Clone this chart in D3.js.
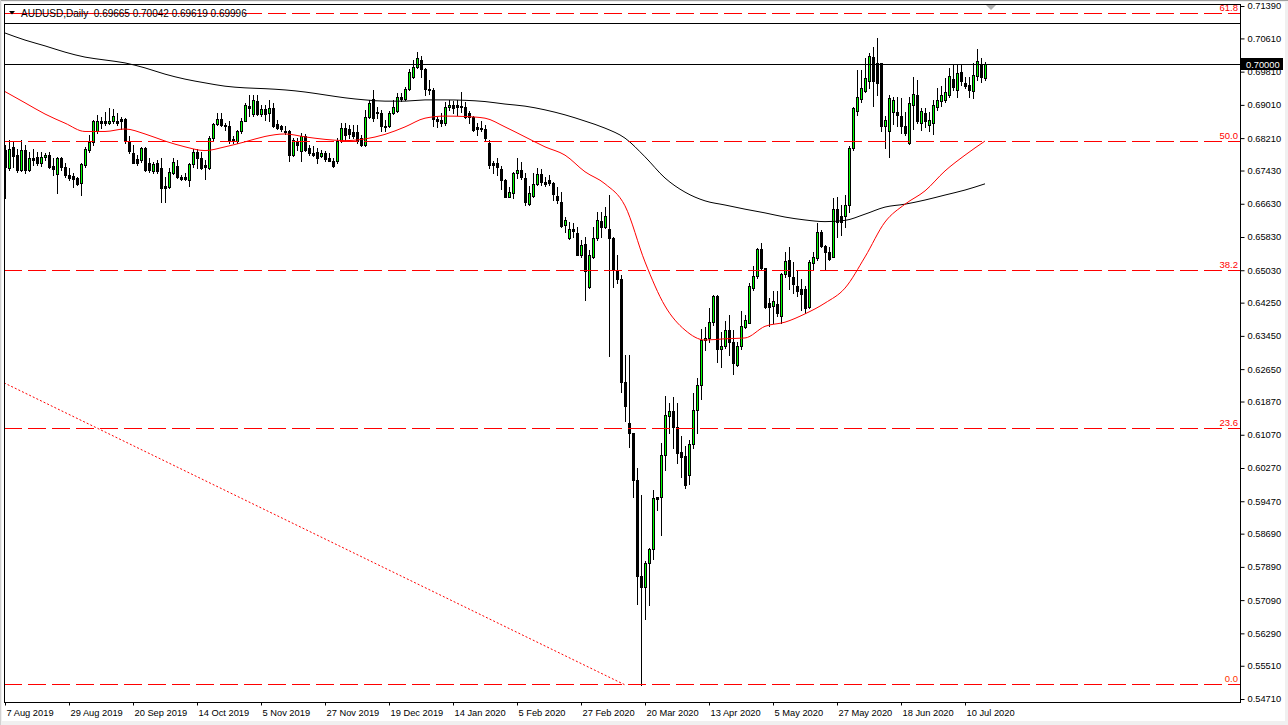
<!DOCTYPE html>
<html><head><meta charset="utf-8">
<script src="https://cdn.jsdelivr.net/npm/d3@7"></script>
<style>body{margin:0;background:#fff;} svg{display:block;}</style>
</head><body>
<svg id="c" width="1288" height="725"></svg>
<script>
const symbolTitle = "AUDUSD,Daily";
const lastQuote = ["0.69665", "0.70042", "0.69619", "0.69996"];

const openP = [
.6792,.6748,.6800,.6780,.6744,.6792,.6744,.6772,.6775,.6760,
.6775,.6780,.6754,.6734,.6774,.6751,.6732,.6730,.6724,.6712,
.6756,.6792,.6812,.6837,.6861,.6861,.6857,.6861,.6863,.6866,
.6866,.6813,.6786,.6770,.6768,.6797,.6760,.6743,.6760,.6748,
.6706,.6703,.6738,.6754,.6728,.6728,.6720,.6758,.6788,.6772,
.6756,.6748,.6821,.6855,.6866,.6853,.6849,.6818,.6813,.6837,
.6863,.6898,.6879,.6910,.6879,.6891,.6881,.6893,.6855,.6850,
.6839,.6837,.6781,.6813,.6789,.6826,.6798,.6786,.6787,.6777,
.6786,.6773,.6767,.6765,.6815,.6845,.6843,.6835,.6835,.6821,
.6805,.6873,.6914,.6885,.6882,.6850,.6850,.6882,.6887,.6919,
.6915,.6939,.6967,.6991,.7009,.6987,.6939,.6937,.6866,.6865,
.6857,.6895,.6900,.6901,.6898,.6895,.6882,.6871,.6847,.6845,
.6842,.6810,.6762,.6762,.6746,.6720,.6680,.6688,.6736,.6744,
.6724,.6663,.6682,.6711,.6734,.6716,.6720,.6714,.6682,.6668,
.6611,.6580,.6602,.6592,.6540,.6566,.6462,.6534,.6580,.6622,
.6606,.6602,.6580,.6504,.6481,.6233,.6136,.6111,.5998,.5767,
.5740,.5798,.5832,.5957,.5957,.6059,.6153,.6164,.6125,.6065,
.6056,.6009,.6084,.6167,.6227,.6335,.6339,.6378,.6441,.6313,
.6321,.6359,.6331,.6275,.6321,.6367,.6377,.6460,.6488,.6554,
.6508,.6424,.6416,.6422,.6393,.6493,.6528,.6486,.6465,.6459,
.6457,.6414,.6520,.6532,.6596,.6562,.6546,.6536,.6650,.6634,
.6634,.6660,.6797,.6887,.6914,.6935,.6959,.7017,.7001,.7001,
.6849,.6837,.6885,.6885,.6874,.6849,.6809,.6901,.6925,.6858,
.6882,.6853,.6857,.6897,.6911,.6913,.6925,.6963,.6938,.6979,
.6954,.6949,.6935,.6971,.6997,.69665];

const highP = [
.6804,.6816,.6812,.6796,.6816,.6804,.6788,.6796,.6788,.6788,
.6784,.6788,.6772,.6776,.6776,.6760,.6748,.6736,.6728,.6760,
.6800,.6829,.6865,.6877,.6873,.6885,.6893,.6890,.6881,.6873,
.6869,.6825,.6805,.6781,.6800,.6800,.6772,.6764,.6768,.6772,
.6728,.6748,.6772,.6768,.6732,.6736,.6760,.6796,.6796,.6788,
.6768,.6825,.6858,.6881,.6881,.6858,.6861,.6826,.6841,.6869,
.6905,.6925,.6925,.6925,.6901,.6901,.6913,.6905,.6865,.6853,
.6849,.6841,.6821,.6821,.6833,.6831,.6805,.6802,.6797,.6793,
.6789,.6785,.6773,.6821,.6858,.6857,.6853,.6853,.6853,.6829,
.6889,.6913,.6937,.6897,.6889,.6865,.6887,.6913,.6929,.6929,
.6945,.6987,.7008,.7029,.7019,.6989,.6961,.6941,.6871,.6881,
.6909,.6913,.6911,.6913,.6933,.6909,.6887,.6874,.6858,.6861,
.6853,.6817,.6765,.6772,.6754,.6722,.6704,.6740,.6772,.6764,
.6736,.6706,.6736,.6748,.6746,.6728,.6732,.6716,.6704,.6692,
.6632,.6620,.6616,.6608,.6576,.6584,.6552,.6608,.6644,.6644,
.6656,.6684,.6582,.6540,.6492,.6299,.6299,.6111,.6026,.5962,
.5802,.5834,.5974,.5958,.6087,.6200,.6183,.6199,.6183,.6103,
.6079,.6095,.6207,.6243,.6361,.6367,.6411,.6444,.6443,.6355,
.6380,.6396,.6359,.6331,.6404,.6396,.6472,.6512,.6556,.6568,
.6508,.6436,.6452,.6452,.6496,.6546,.6560,.6524,.6504,.6483,
.6464,.6528,.6548,.6616,.6600,.6564,.6560,.6676,.6680,.6660,
.6684,.6801,.6897,.6985,.6985,.7013,.7025,.7041,.7061,.7003,
.6874,.6925,.6921,.6921,.6917,.6885,.6921,.6969,.6961,.6893,
.6893,.6885,.6913,.6941,.6947,.6965,.6989,.6999,.6999,.6999,
.6967,.6969,.7001,.7035,.7013,.70042];

const lowP = [
.6676,.6744,.6752,.6740,.6743,.6736,.6743,.6756,.6756,.6754,
.6768,.6748,.6732,.6688,.6744,.6728,.6720,.6704,.6708,.6684,
.6752,.6788,.6804,.6833,.6845,.6853,.6855,.6857,.6853,.6842,
.6809,.6785,.6760,.6756,.6764,.6743,.6740,.6738,.6738,.6668,
.6668,.6700,.6735,.6724,.6720,.6720,.6706,.6752,.6750,.6746,
.6722,.6746,.6816,.6853,.6849,.6841,.6809,.6809,.6809,.6833,
.6861,.6874,.6874,.6877,.6874,.6865,.6861,.6847,.6842,.6837,
.6831,.6767,.6777,.6793,.6767,.6789,.6781,.6777,.6762,.6775,
.6767,.6765,.6752,.6762,.6812,.6815,.6821,.6821,.6809,.6802,
.6802,.6869,.6863,.6869,.6837,.6839,.6847,.6879,.6885,.6911,
.6913,.6937,.6965,.6989,.6967,.6925,.6927,.6849,.6847,.6850,
.6853,.6889,.6881,.6877,.6885,.6869,.6858,.6837,.6829,.6837,
.6815,.6748,.6736,.6732,.6698,.6679,.6679,.6676,.6724,.6722,
.6660,.6660,.6679,.6708,.6708,.6706,.6708,.6671,.6664,.6608,
.6596,.6578,.6584,.6540,.6536,.6432,.6460,.6532,.6576,.6584,
.6604,.6297,.6462,.6472,.6209,.6139,.6077,.5958,.5700,.5505,
.5663,.5698,.5807,.5926,.5866,.6021,.6111,.6075,.6038,.6005,
.5978,.5989,.6075,.6112,.6192,.6310,.6331,.6371,.6281,.6269,
.6315,.6299,.6254,.6273,.6313,.6363,.6375,.6456,.6484,.6504,
.6412,.6369,.6375,.6393,.6377,.6486,.6457,.6448,.6440,.6408,
.6399,.6411,.6505,.6528,.6560,.6505,.6528,.6534,.6584,.6588,
.6608,.6644,.6793,.6877,.6909,.6933,.6941,.6898,.6925,.6837,
.6797,.6775,.6855,.6849,.6833,.6829,.6807,.6842,.6858,.6841,
.6847,.6837,.6831,.6889,.6898,.6909,.6921,.6938,.6921,.6949,
.6941,.6921,.6917,.6961,.6957,.69619];

const closeP = [
.6752,.6794,.6778,.6744,.6792,.6744,.6772,.6768,.6760,.6775,
.6780,.6752,.6746,.6772,.6751,.6732,.6724,.6723,.6711,.6759,
.6794,.6812,.6861,.6861,.6857,.6857,.6863,.6874,.6857,.6861,
.6813,.6789,.6760,.6762,.6797,.6744,.6744,.6759,.6743,.6700,
.6700,.6739,.6764,.6728,.6722,.6722,.6758,.6788,.6772,.6748,
.6751,.6821,.6855,.6866,.6853,.6849,.6813,.6813,.6837,.6863,
.6901,.6893,.6913,.6879,.6891,.6879,.6894,.6850,.6845,.6842,
.6835,.6781,.6817,.6805,.6825,.6793,.6785,.6781,.6773,.6785,
.6770,.6767,.6755,.6815,.6845,.6829,.6831,.6826,.6813,.6805,
.6871,.6905,.6869,.6881,.6849,.6847,.6882,.6897,.6919,.6914,
.6939,.6979,.6993,.7013,.6987,.6939,.6937,.6866,.6861,.6857,
.6897,.6901,.6894,.6897,.6895,.6871,.6871,.6841,.6842,.6842,
.6821,.6756,.6757,.6751,.6719,.6679,.6691,.6736,.6744,.6727,
.6668,.6688,.6711,.6734,.6716,.6710,.6712,.6687,.6672,.6610,
.6624,.6602,.6598,.6540,.6564,.6500,.6540,.6580,.6624,.6608,
.6634,.6580,.6504,.6481,.6233,.6176,.6111,.5997,.5767,.5740,
.5799,.5832,.5954,.5953,.6059,.6155,.6164,.6125,.6064,.6053,
.5986,.6085,.6167,.6227,.6335,.6341,.6378,.6441,.6313,.6321,
.6358,.6331,.6279,.6321,.6369,.6384,.6464,.6489,.6554,.6508,
.6414,.6414,.6430,.6401,.6493,.6525,.6488,.6470,.6454,.6447,
.6412,.6524,.6534,.6594,.6562,.6546,.6529,.6650,.6620,.6618,
.6660,.6797,.6893,.6919,.6941,.6965,.7019,.6959,.6953,.6850,
.6865,.6917,.6913,.6877,.6849,.6833,.6906,.6927,.6861,.6887,
.6861,.6865,.6901,.6913,.6925,.6933,.6970,.6945,.6977,.6959,
.6947,.6937,.6973,.7007,.6969,.69996];

// moving averages, one value every 5 bars
const maBars = [0,5,10,15,20,25,30,35,40,45,50,55,60,65,70,75,80,85,90,95,
100,105,110,115,120,125,130,135,140,145,150,155,160,165,170,175,180,185,190,195,
200,205,210,215,220,225,230,235,240,245];
const ma50 = [0.6933,0.6906,0.6879,0.6857,0.6837,0.6837,0.6843,0.6831,0.6814,0.6800,
0.6791,0.6800,0.6812,0.6825,0.6831,0.6824,0.6818,0.6815,0.6819,0.6830,
0.6848,0.6869,0.6874,0.6873,0.6869,0.6848,0.6824,0.6800,0.6780,0.6740,
0.6711,0.6658,0.6523,0.6417,0.6359,0.6335,0.6338,0.6340,0.6368,0.6378,
0.6398,0.6424,0.6460,0.6535,0.6619,0.6662,0.6694,0.6742,0.6780,0.6814];
const ma200 = [0.7074,0.7057,0.7043,0.7028,0.7016,0.7009,0.7002,0.6990,0.6975,0.6963,
0.6954,0.6946,0.6942,0.6940,0.6937,0.6932,0.6925,0.6918,0.6913,0.6910,
0.6910,0.6913,0.6913,0.6912,0.6909,0.6903,0.6898,0.6889,0.6877,0.6862,
0.6845,0.6821,0.6776,0.6725,0.6691,0.6670,0.6660,0.6650,0.6641,0.6631,
0.6624,0.6620,0.6623,0.6638,0.6655,0.6662,0.6672,0.6684,0.6696,0.6711];

const priceTicks = [0.71390,0.70610,0.69810,0.69010,0.68210,0.67430,0.66630,0.65830,0.65030,0.64250,
0.63450,0.62650,0.61870,0.61070,0.60270,0.59470,0.58690,0.57890,0.57090,0.56290,0.55510,0.54710];
const dateTickBars = [0,16,32,48,64,80,96,112,128,144,160,176,192,208,224,240];
const dateTickLabels = ["7 Aug 2019","29 Aug 2019","20 Sep 2019","14 Oct 2019","5 Nov 2019","27 Nov 2019",
"19 Dec 2019","14 Jan 2020","5 Feb 2020","27 Feb 2020","20 Mar 2020","13 Apr 2020","5 May 2020",
"27 May 2020","18 Jun 2020","10 Jul 2020"];

const fibLabels = ["0.0","23.6","38.2","50.0","61.8"];
const fibRatios = [0, 0.236, 0.382, 0.5, 0.618];
const fibLow = 0.5506, fibHigh = 0.8120;
const hLines = [0.70000, 0.70974];
const trendBars = [-0.25, 155];
const trendPrices = [0.6232, 0.5505];
const currentPrice = 0.70000;

const svg = d3.select("#c");
const L = 4, R = 1240, T = 4, B = 702;
const x = d3.scaleLinear().domain([0, 245]).range([5, 985]);
const y = d3.scaleLinear().domain([0.54710, 0.71390]).range([699, 6]);
const FONT = "'Liberation Sans', Arial, sans-serif";

// outer window frame
svg.append("rect").attr("x",0).attr("y",0).attr("width",1288).attr("height",725).attr("fill","#f0f0f0");
svg.append("rect").attr("x",2).attr("y",2).attr("width",1283).attr("height",719).attr("fill","#fff");
svg.append("line").attr("x1",0).attr("x2",1288).attr("y1",0.5).attr("y2",0.5).attr("stroke","#a0a0a0");
svg.append("line").attr("x1",0.5).attr("x2",0.5).attr("y1",0).attr("y2",725).attr("stroke","#d0d0d0");

svg.append("clipPath").attr("id","plot").append("rect").attr("x",L+1).attr("y",T+1).attr("width",R-L-1).attr("height",B-T-1);
const g = svg.append("g").attr("clip-path","url(#plot)");

// candles
const idx = d3.range(openP.length);
const cg = g.append("g");
idx.forEach(i => {
  const c = Math.round(x(i));
  const yh = Math.round(y(highP[i])), yl = Math.round(y(lowP[i]));
  const bull = closeP[i] >= openP[i];
  const top = Math.round(y(Math.max(openP[i], closeP[i])));
  const bot = Math.round(y(Math.min(openP[i], closeP[i])));
  cg.append("line").attr("x1",c+0.5).attr("x2",c+0.5).attr("y1",yh).attr("y2",yl+1)
    .attr("stroke","#000").attr("stroke-width",1);
  if (bull && bot - top >= 2) {
    cg.append("rect").attr("x",c-0.5).attr("y",top+0.5).attr("width",2).attr("height",bot-top)
      .attr("fill","#00ff00").attr("stroke","#000").attr("stroke-width",1);
  } else {
    cg.append("rect").attr("x",c-1).attr("y",top).attr("width",3).attr("height",Math.max(1,bot-top+1))
      .attr("fill","#000");
  }
});

// moving averages
const maLine = d3.line().x((d,k) => x(maBars[k])).y(d => y(d)).curve(d3.curveMonotoneX);
g.append("path").datum(ma200).attr("d",maLine).attr("fill","none").attr("stroke","#000").attr("stroke-width",1);
g.append("path").datum(ma50).attr("d",maLine).attr("fill","none").attr("stroke","#ff0000").attr("stroke-width",1);

// fibonacci levels
fibRatios.forEach((r,k) => {
  const p = fibLow + r*(fibHigh - fibLow);
  const yy = Math.round(y(p)) + 0.5;
  g.append("line").attr("x1",L).attr("x2",R).attr("y1",yy).attr("y2",yy)
    .attr("stroke","#ff0000").attr("stroke-dasharray","18,6");
  svg.append("text").attr("x",R-2).attr("y",yy-3).attr("text-anchor","end")
    .attr("font-family",FONT).attr("font-size","9.5px").attr("fill", k===0 ? "#ff3300" : "#ff0000")
    .text(fibLabels[k]);
});
// solid piece of the top level under the header
{
  const yy = Math.round(y(fibLow + 0.618*(fibHigh-fibLow))) + 0.5;
  g.append("line").attr("x1",L).attr("x2",238).attr("y1",yy).attr("y2",yy).attr("stroke","#ff0000");
}

// horizontal black lines
hLines.forEach(p => {
  const yy = Math.round(y(p)) + 0.5;
  g.append("line").attr("x1",L).attr("x2",R).attr("y1",yy).attr("y2",yy).attr("stroke","#000");
});

// trendline (dotted)
g.append("line").attr("x1",x(trendBars[0])).attr("y1",y(trendPrices[0]))
  .attr("x2",x(trendBars[1])).attr("y2",y(trendPrices[1]))
  .attr("stroke","#ff0000").attr("stroke-dasharray","2,2");

// frame
svg.append("rect").attr("x",L+0.5).attr("y",T+0.5).attr("width",R-L).attr("height",B-T)
  .attr("fill","none").attr("stroke","#000");

// right price axis
const ax = svg.append("g").attr("transform",`translate(${R+0.5},0)`)
  .call(d3.axisRight(y).tickValues(priceTicks).tickSize(4).tickPadding(3).tickFormat(d3.format(".5f")));
ax.select(".domain").remove();
ax.selectAll("line").attr("stroke","#000");
ax.selectAll("text").attr("font-family",FONT).attr("font-size","9.3px").attr("fill","#000");

// bottom date axis
const bx = svg.append("g").attr("transform",`translate(0,${B+0.5})`)
  .call(d3.axisBottom(x).tickValues(dateTickBars).tickSize(3).tickPadding(4).tickFormat((d,k)=>dateTickLabels[k]));
bx.select(".domain").remove();
bx.selectAll("line").attr("stroke","#000");
bx.selectAll("text").attr("font-family",FONT).attr("font-size","9.3px").attr("fill","#000")
  .attr("text-anchor","start").attr("dx","1");

// current price label
{
  const yy = Math.round(y(currentPrice));
  svg.append("rect").attr("x",R+1).attr("y",yy-6).attr("width",42).attr("height",12).attr("fill","#000");
  svg.append("text").attr("x",R+6).attr("y",yy+3.5).attr("font-family",FONT).attr("font-size","9.3px")
    .attr("fill","#fff").text(d3.format(".5f")(currentPrice));
}

// chart shift marker
svg.append("path").attr("d","M986,5 L996,5 L991,10 Z").attr("fill","#b0b0b0");

// header
svg.append("path").attr("d","M9,11 L15,11 L12,14.5 Z").attr("fill","#000");
svg.append("text").attr("x",21).attr("y",16.5).attr("font-family",FONT).attr("font-size","10px")
  .attr("fill","#000").attr("xml:space","preserve")
  .text(symbolTitle + "  " + lastQuote.join(" "));
</script>
</body></html>
